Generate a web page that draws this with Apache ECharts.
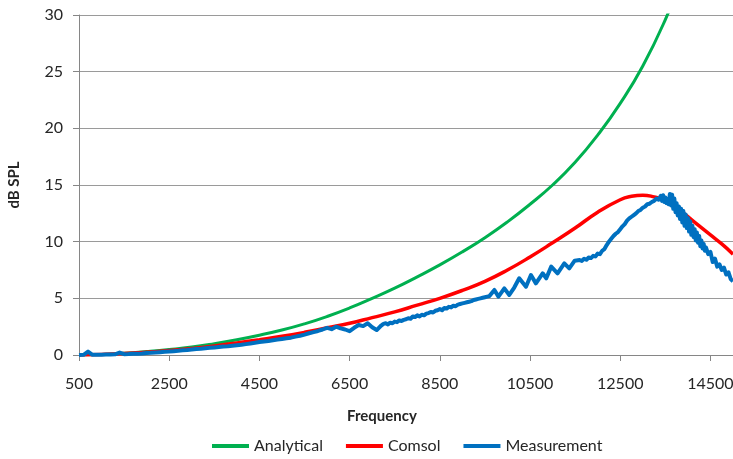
<!DOCTYPE html>
<html>
<head>
<meta charset="utf-8">
<script src="https://cdn.jsdelivr.net/npm/echarts@6/dist/echarts.min.js"></script>
<style>
  html, body { margin: 0; padding: 0; background: #ffffff; }
  #chart { width: 733px; height: 459px; }
</style>
</head>
<body>
<div id="chart"></div>
<script>
// Frequency axis starts at 500 Hz; values are shifted by this offset so the
// 2000 Hz tick spacing lines up with the first tick.
const FREQ_START = 500;

// Analytical model (dB SPL) sampled every 500 Hz
const analyticalFreq = [500, 1000, 1500, 2000, 2500, 3000, 3500, 4000, 4500, 5000,
  5500, 6000, 6500, 7000, 7500, 8000, 8500, 9000, 9500, 10000,
  10500, 11000, 11500, 12000, 12500, 13000, 13500, 14000];
const analyticalDb = [0, 0.05, 0.15, 0.3, 0.48, 0.7, 1.0, 1.35, 1.75, 2.2,
  2.75, 3.4, 4.15, 5.0, 5.9, 6.9, 7.95, 9.1, 10.35, 11.75,
  13.3, 15.0, 17.0, 19.4, 22.2, 25.5, 29.6, 34.5];

// Comsol simulation (dB SPL)
const comsolFreq = [500, 1000, 1500, 2000, 2500, 3000, 3500, 4000, 4500, 5000,
  5500, 6000, 6500, 7000, 7500, 8000, 8500, 9000, 9500, 10000,
  10500, 11000, 11500, 12000, 12500, 12750, 13000, 13250, 13500, 13750,
  14000, 14250, 14500, 14750, 15000];
const comsolDb = [0, 0.05, 0.13, 0.25, 0.4, 0.58, 0.8, 1.07, 1.35, 1.65,
  2.0, 2.4, 2.8, 3.3, 3.8, 4.4, 5.0, 5.7, 6.5, 7.5,
  8.65, 9.9, 11.2, 12.6, 13.7, 14.0, 14.1, 13.95, 13.65, 13.0,
  12.2, 11.4, 10.6, 9.8, 8.9];

// Measured response (dB SPL)
const measFreq = [
  500, 600, 700, 800, 900, 1000, 1100, 1200, 1300, 1400,
  1500, 1600, 1700, 1800, 1900, 2000, 2100, 2200, 2300, 2400,
  2500, 2600, 2700, 2800, 2900, 3000, 3100, 3200, 3300, 3400,
  3500, 3600, 3700, 3800, 3900, 4000, 4100, 4200, 4300, 4400,
  4500, 4600, 4700, 4800, 4900, 5000, 5100, 5200, 5300, 5400,
  5500, 5600, 5700, 5800, 5900, 6000, 6100, 6200, 6300, 6400,
  6500, 6600, 6700, 6800, 6900, 7000, 7100, 7200, 7250, 7300,
  7350, 7400, 7450, 7500, 7550, 7600, 7650, 7700, 7750, 7800,
  7850, 7900, 7950, 8000, 8050, 8100, 8150, 8200, 8250, 8300,
  8350, 8400, 8450, 8500, 8550, 8600, 8650, 8700, 8750, 8800,
  8850, 8900, 8950, 9000, 9050, 9100, 9150, 9200, 9250, 9300,
  9350, 9400, 9450, 9500, 9550, 9600, 9650, 9710, 9800, 9930,
  10040, 10150, 10260, 10410, 10520, 10630, 10780, 10860, 10970, 11110,
  11260, 11370, 11490, 11600, 11650, 11700, 11750, 11800, 11850, 11900,
  11950, 12000, 12050, 12100, 12150, 12200, 12250, 12300, 12350, 12400,
  12450, 12500, 12550, 12600, 12650, 12700, 12750, 12800, 12850, 12900,
  12950, 13000, 13050, 13100, 13150, 13200, 13250, 13300, 13350, 13400,
  13425, 13450, 13475, 13500, 13525, 13550, 13575, 13600, 13625, 13650,
  13675, 13700, 13725, 13750, 13775, 13800, 13825, 13850, 13875, 13900,
  13925, 13950, 13975, 14000, 14025, 14050, 14075, 14100, 14125, 14150,
  14175, 14200, 14225, 14250, 14275, 14300, 14325, 14350, 14375, 14400,
  14450, 14500, 14550, 14600, 14650, 14700, 14750, 14800, 14850, 14900,
  14950, 15000];
const measDb = [
  0.00, 0.02, 0.30, 0.02, 0.03, 0.03, 0.04, 0.05, 0.06, 0.22,
  0.07, 0.08, 0.10, 0.12, 0.14, 0.17, 0.19, 0.22, 0.25, 0.28,
  0.31, 0.34, 0.37, 0.41, 0.44, 0.48, 0.52, 0.55, 0.59, 0.63,
  0.67, 0.71, 0.75, 0.78, 0.82, 0.86, 0.90, 0.96, 1.02, 1.08,
  1.15, 1.20, 1.24, 1.30, 1.36, 1.42, 1.48, 1.53, 1.62, 1.70,
  1.80, 1.92, 2.02, 2.12, 2.25, 2.40, 2.28, 2.50, 2.35, 2.25,
  2.10, 2.40, 2.65, 2.55, 2.80, 2.45, 2.20, 2.60, 2.75, 2.80,
  2.70, 2.85, 2.80, 2.95, 2.90, 3.05, 3.00, 3.10, 3.15, 3.25,
  3.20, 3.40, 3.35, 3.50, 3.40, 3.55, 3.50, 3.65, 3.70, 3.80,
  3.75, 3.90, 3.95, 4.05, 3.95, 4.15, 4.10, 4.25, 4.20, 4.35,
  4.30, 4.45, 4.50, 4.55, 4.60, 4.65, 4.70, 4.75, 4.85, 4.90,
  4.95, 5.00, 5.05, 5.10, 5.15, 5.20, 5.45, 5.74, 5.15, 5.88,
  5.30, 5.95, 6.77, 6.03, 7.06, 6.32, 7.21, 6.77, 7.80, 7.21,
  8.09, 7.65, 8.32, 8.38, 8.30, 8.50, 8.40, 8.60, 8.55, 8.75,
  8.70, 8.95, 8.90, 9.20, 9.35, 9.70, 10.00, 10.25, 10.50, 10.70,
  10.85, 11.10, 11.35, 11.55, 11.85, 12.05, 12.20, 12.35, 12.50, 12.70,
  12.80, 13.00, 13.10, 13.30, 13.35, 13.50, 13.60, 13.80, 13.70, 14.05,
  13.60, 14.10, 13.50, 13.90, 13.40, 13.75, 13.30, 14.20, 13.20, 14.15,
  12.90, 13.80, 12.60, 13.40, 12.30, 13.10, 12.00, 12.90, 11.70, 12.70,
  11.40, 12.40, 11.20, 12.10, 10.90, 11.80, 10.60, 11.40, 10.40, 11.10,
  10.10, 10.80, 9.90, 10.50, 9.60, 10.10, 9.40, 9.80, 9.20, 9.50,
  8.90, 9.10, 8.20, 8.50, 7.80, 8.00, 7.50, 7.70, 7.10, 7.30,
  6.70, 6.50];

const seriesNames = ['Analytical', 'Comsol', 'Measurement'];
const seriesColors = ['#00B050', '#FF0000', '#0070C0'];

const FONT = 'Lato, "Liberation Sans", sans-serif';
const TEXT = '#262626';
const AXIS = '#868686';

function toPoints(freqs, values) {
  return freqs.map((f, i) => [f - FREQ_START, values[i]]);
}

const chart = echarts.init(document.getElementById('chart'), null, { renderer: 'canvas' });

chart.setOption({
  animation: false,
  backgroundColor: '#ffffff',
  grid: { left: 79, right: 0, top: 15, bottom: 104, containLabel: false, outerBoundsMode: 'none' },
  legend: {
    data: seriesNames,
    left: 212,
    top: 438,
    padding: 0,
    icon: 'rect',
    itemWidth: 37,
    itemHeight: 4,
    itemGap: 23,
    textStyle: { fontFamily: FONT, fontSize: 16, color: TEXT }
  },
  graphic: [{
    type: 'text',
    left: 347,
    top: 409,
    style: { text: 'Frequency', font: 'bold 15px ' + FONT, fill: TEXT }
  }],
  xAxis: {
    type: 'value',
    min: 0,
    max: 15000 - FREQ_START,
    interval: 2000,
    axisLine: { show: true, onZero: false, lineStyle: { color: AXIS, width: 1 } },
    axisTick: { show: true, length: 6, lineStyle: { color: AXIS } },
    splitLine: { show: false },
    axisLabel: {
      formatter: v => String(v + FREQ_START),
      margin: 21,
      showMaxLabel: false,
      fontFamily: FONT,
      fontSize: 16,
      color: TEXT
    }
  },
  yAxis: {
    type: 'value',
    min: 0,
    max: 30,
    interval: 5,
    name: 'dB SPL',
    nameLocation: 'middle',
    nameGap: 57,
    nameTextStyle: { fontFamily: FONT, fontSize: 15, fontWeight: 'bold', color: TEXT },
    axisLine: { show: true, lineStyle: { color: AXIS, width: 1 } },
    axisTick: { show: true, length: 6, lineStyle: { color: AXIS } },
    splitLine: { show: true, lineStyle: { color: '#9a9a9a', width: 1 } },
    axisLabel: { margin: 16, fontFamily: FONT, fontSize: 16, color: TEXT }
  },
  series: [
    {
      name: seriesNames[0],
      type: 'line',
      data: toPoints(analyticalFreq, analyticalDb),
      smooth: true,
      showSymbol: false,
      clip: true,
      lineStyle: { color: seriesColors[0], width: 3 },
      itemStyle: { color: seriesColors[0] }
    },
    {
      name: seriesNames[1],
      type: 'line',
      data: toPoints(comsolFreq, comsolDb),
      smooth: true,
      showSymbol: false,
      clip: true,
      lineStyle: { color: seriesColors[1], width: 3.5 },
      itemStyle: { color: seriesColors[1] }
    },
    {
      name: seriesNames[2],
      type: 'line',
      data: toPoints(measFreq, measDb),
      showSymbol: false,
      clip: true,
      lineStyle: { color: seriesColors[2], width: 4, join: 'round' },
      itemStyle: { color: seriesColors[2] }
    }
  ]
});
</script>
</body>
</html>
